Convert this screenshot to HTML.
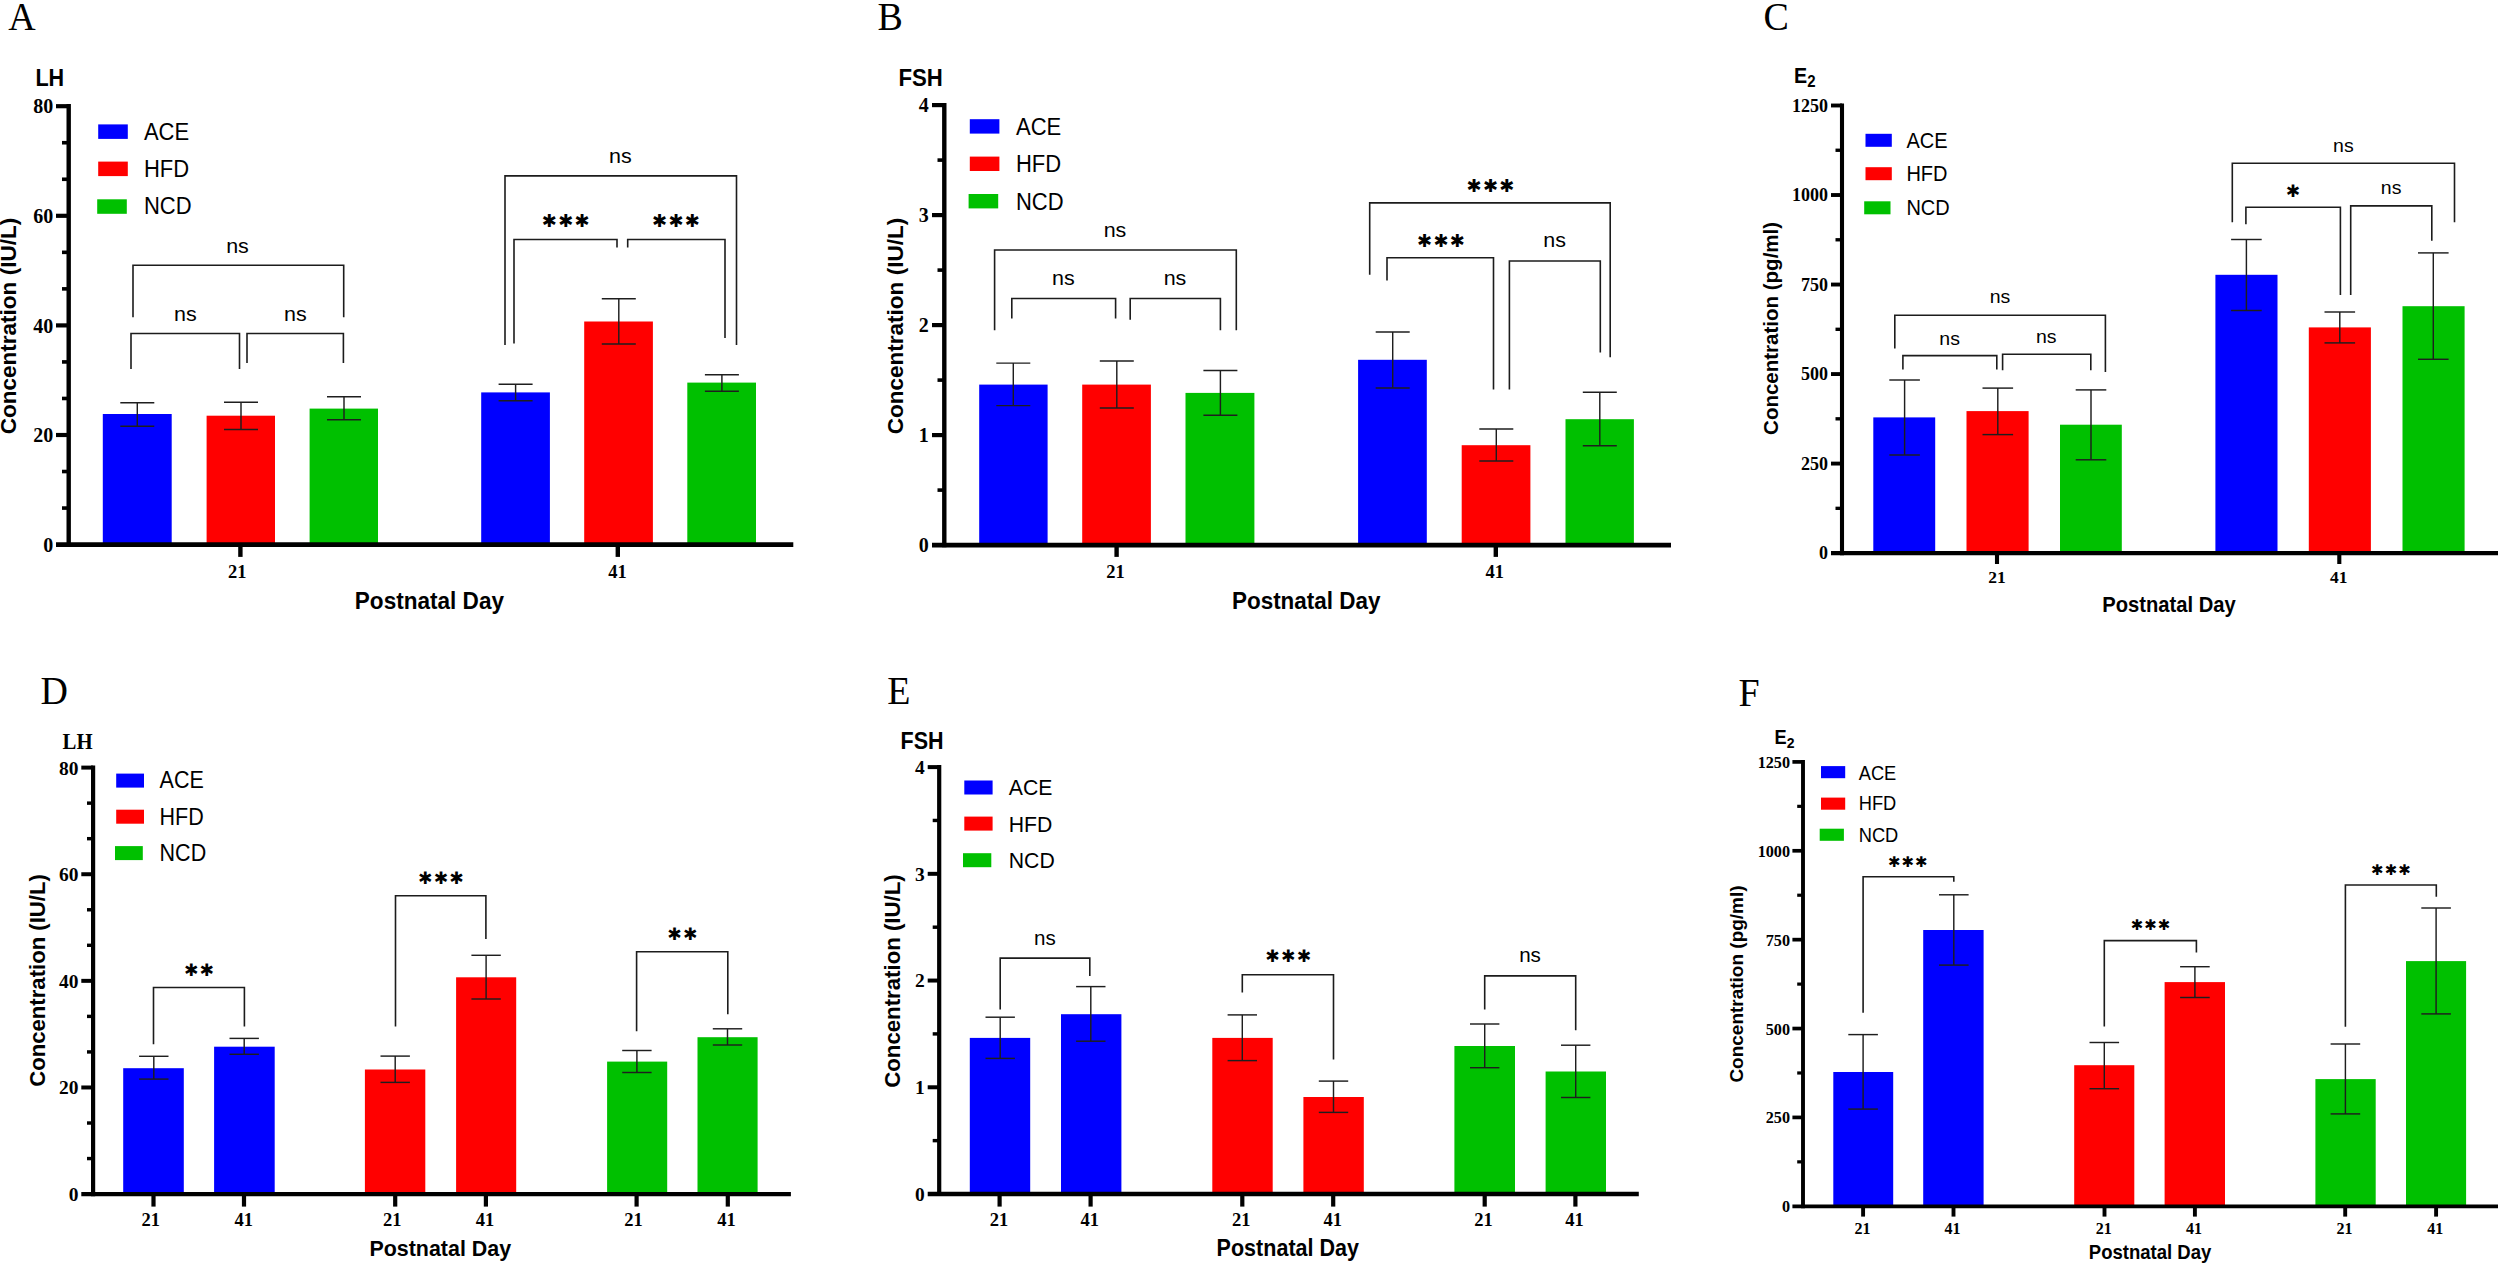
<!DOCTYPE html>
<html lang="en"><head><meta charset="utf-8"><title>Hormone concentration figure</title>
<style>html,body{margin:0;padding:0;background:#fff}svg{display:block}text{fill:#000}.s{font-family:"Liberation Sans",Arial,Helvetica,sans-serif}.r{font-family:"Liberation Serif","Times New Roman",Times,serif}.d{font-family:"DejaVu Sans","Liberation Sans",sans-serif}.b{font-weight:bold}.m{text-anchor:middle}.e{text-anchor:end}</style></head>
<body>
<svg width="2500" height="1267" viewBox="0 0 2500 1267" shape-rendering="auto">
<rect width="2500" height="1267" fill="#fff"/>
<g id="panelA">
<text class="r" transform="translate(8.2 30.1) scale(1 1.045)" font-size="38">A</text>
<text class="s b" transform="translate(35.4 86.3) scale(1 1.1)" font-size="21.6">LH</text>
<rect x="102.8" y="414" width="68.9" height="130.6" fill="#0000ff"/>
<rect x="206.6" y="415.7" width="68.4" height="128.9" fill="#ff0000"/>
<rect x="309.6" y="408.6" width="68.4" height="136" fill="#00c000"/>
<rect x="481.2" y="392.4" width="68.7" height="152.2" fill="#0000ff"/>
<rect x="584.2" y="321.5" width="68.7" height="223.1" fill="#ff0000"/>
<rect x="687.3" y="382.6" width="68.7" height="162" fill="#00c000"/>
<line x1="137.3" y1="402.8" x2="137.3" y2="426.3" stroke="#1e1e1e" stroke-width="1.45"/>
<line x1="120.3" y1="402.8" x2="154.3" y2="402.8" stroke="#1e1e1e" stroke-width="1.45"/>
<line x1="120.3" y1="426.3" x2="154.3" y2="426.3" stroke="#1e1e1e" stroke-width="1.45"/>
<line x1="241" y1="402.3" x2="241" y2="429.5" stroke="#1e1e1e" stroke-width="1.45"/>
<line x1="224" y1="402.3" x2="258" y2="402.3" stroke="#1e1e1e" stroke-width="1.45"/>
<line x1="224" y1="429.5" x2="258" y2="429.5" stroke="#1e1e1e" stroke-width="1.45"/>
<line x1="344" y1="396.7" x2="344" y2="419.7" stroke="#1e1e1e" stroke-width="1.45"/>
<line x1="327" y1="396.7" x2="361" y2="396.7" stroke="#1e1e1e" stroke-width="1.45"/>
<line x1="327" y1="419.7" x2="361" y2="419.7" stroke="#1e1e1e" stroke-width="1.45"/>
<line x1="515.6" y1="384.3" x2="515.6" y2="400.8" stroke="#1e1e1e" stroke-width="1.45"/>
<line x1="498.6" y1="384.3" x2="532.6" y2="384.3" stroke="#1e1e1e" stroke-width="1.45"/>
<line x1="498.6" y1="400.8" x2="532.6" y2="400.8" stroke="#1e1e1e" stroke-width="1.45"/>
<line x1="618.8" y1="298.8" x2="618.8" y2="343.9" stroke="#1e1e1e" stroke-width="1.45"/>
<line x1="601.8" y1="298.8" x2="635.8" y2="298.8" stroke="#1e1e1e" stroke-width="1.45"/>
<line x1="601.8" y1="343.9" x2="635.8" y2="343.9" stroke="#1e1e1e" stroke-width="1.45"/>
<line x1="721.9" y1="374.7" x2="721.9" y2="391.2" stroke="#1e1e1e" stroke-width="1.45"/>
<line x1="704.9" y1="374.7" x2="738.9" y2="374.7" stroke="#1e1e1e" stroke-width="1.45"/>
<line x1="704.9" y1="391.2" x2="738.9" y2="391.2" stroke="#1e1e1e" stroke-width="1.45"/>
<line x1="68.7" y1="104" x2="68.7" y2="546.8" stroke="#000" stroke-width="4.4"/>
<line x1="56" y1="544.6" x2="793.3" y2="544.6" stroke="#000" stroke-width="4.6"/>
<text class="r b e" transform="translate(53.3 551.8) scale(1 1.06)" font-size="20">0</text>
<line x1="62" y1="508.07" x2="68.7" y2="508.07" stroke="#000" stroke-width="3.61"/>
<line x1="62" y1="471.53" x2="68.7" y2="471.53" stroke="#000" stroke-width="3.61"/>
<line x1="56" y1="435" x2="68.7" y2="435" stroke="#000" stroke-width="4.18"/>
<text class="r b e" transform="translate(53.3 442.2) scale(1 1.06)" font-size="20">20</text>
<line x1="62" y1="398.47" x2="68.7" y2="398.47" stroke="#000" stroke-width="3.61"/>
<line x1="62" y1="361.93" x2="68.7" y2="361.93" stroke="#000" stroke-width="3.61"/>
<line x1="56" y1="325.4" x2="68.7" y2="325.4" stroke="#000" stroke-width="4.18"/>
<text class="r b e" transform="translate(53.3 332.6) scale(1 1.06)" font-size="20">40</text>
<line x1="62" y1="288.87" x2="68.7" y2="288.87" stroke="#000" stroke-width="3.61"/>
<line x1="62" y1="252.33" x2="68.7" y2="252.33" stroke="#000" stroke-width="3.61"/>
<line x1="56" y1="215.8" x2="68.7" y2="215.8" stroke="#000" stroke-width="4.18"/>
<text class="r b e" transform="translate(53.3 223) scale(1 1.06)" font-size="20">60</text>
<line x1="62" y1="179.27" x2="68.7" y2="179.27" stroke="#000" stroke-width="3.61"/>
<line x1="62" y1="142.73" x2="68.7" y2="142.73" stroke="#000" stroke-width="3.61"/>
<line x1="56" y1="106.2" x2="68.7" y2="106.2" stroke="#000" stroke-width="4.18"/>
<text class="r b e" transform="translate(53.3 113.4) scale(1 1.06)" font-size="20">80</text>
<line x1="240.4" y1="544.6" x2="240.4" y2="556.9" stroke="#000" stroke-width="4.4"/>
<text class="r b m" transform="translate(237.2 578.3) scale(1 1.05)" font-size="18.5">21</text>
<line x1="617.8" y1="544.6" x2="617.8" y2="556.9" stroke="#000" stroke-width="4.4"/>
<text class="r b m" transform="translate(617.6 578.3) scale(1 1.05)" font-size="18.5">41</text>
<text class="s b" transform="translate(354.8 609.3) scale(1 1.07)" font-size="22.4" textLength="149.2" lengthAdjust="spacingAndGlyphs">Postnatal Day</text>
<text class="s b" transform="translate(16.2 434.3) rotate(-90)" font-size="22.6" textLength="216.5" lengthAdjust="spacingAndGlyphs">Concentration (IU/L)</text>
<rect x="98.2" y="124.4" width="29.6" height="14.5" fill="#0000ff"/>
<text class="s" transform="translate(143.9 139.6) scale(1 1.08)" font-size="22">ACE</text>
<rect x="98.2" y="161.6" width="29.6" height="14.5" fill="#ff0000"/>
<text class="s" transform="translate(143.9 176.9) scale(1 1.08)" font-size="22">HFD</text>
<rect x="97.2" y="199.3" width="29.6" height="14.5" fill="#00c000"/>
<text class="s" transform="translate(143.9 214.2) scale(1 1.08)" font-size="22">NCD</text>
<polyline points="133,317.2 133,265.2 343.7,265.2 343.7,317.2" fill="none" stroke="#1c1c1c" stroke-width="1.6" stroke-linejoin="miter"/>
<text class="s m" transform="translate(237.5 252.5) scale(1 0.97)" font-size="21.5">ns</text>
<polyline points="131,369 131,333.5 239.5,333.5 239.5,369" fill="none" stroke="#1c1c1c" stroke-width="1.6" stroke-linejoin="miter"/>
<text class="s m" transform="translate(185.3 321) scale(1 0.97)" font-size="21.5">ns</text>
<polyline points="247,363 247,333.5 343.4,333.5 343.4,363" fill="none" stroke="#1c1c1c" stroke-width="1.6" stroke-linejoin="miter"/>
<text class="s m" transform="translate(295.3 321) scale(1 0.97)" font-size="21.5">ns</text>
<polyline points="505,345 505,175.9 736.5,175.9 736.5,345" fill="none" stroke="#1c1c1c" stroke-width="1.6" stroke-linejoin="miter"/>
<text class="s m" transform="translate(620.4 163.2) scale(1 0.97)" font-size="21.5">ns</text>
<polyline points="514,343.4 514,239.5 617,239.5 617,247.6" fill="none" stroke="#1c1c1c" stroke-width="1.6" stroke-linejoin="miter"/>
<text class="d m" x="566.45" y="227.2" font-size="18" letter-spacing="1.3">✱✱✱</text>
<polyline points="627.7,247.6 627.7,239.5 725,239.5 725,337.9" fill="none" stroke="#1c1c1c" stroke-width="1.6" stroke-linejoin="miter"/>
<text class="d m" x="676.65" y="227.2" font-size="18" letter-spacing="1.3">✱✱✱</text>
</g>
<g id="panelB">
<text class="r" transform="translate(877.5 30) scale(1 1.045)" font-size="38">B</text>
<text class="s b" transform="translate(898.5 86.4) scale(1 1.1)" font-size="22.2">FSH</text>
<rect x="979.2" y="384.6" width="68.4" height="160.5" fill="#0000ff"/>
<rect x="1082.2" y="384.6" width="68.7" height="160.5" fill="#ff0000"/>
<rect x="1185.5" y="392.9" width="68.9" height="152.2" fill="#00c000"/>
<rect x="1358.1" y="359.8" width="68.7" height="185.3" fill="#0000ff"/>
<rect x="1461.7" y="445.2" width="68.7" height="99.9" fill="#ff0000"/>
<rect x="1565.5" y="419.2" width="68.4" height="125.9" fill="#00c000"/>
<line x1="1013.3" y1="363.1" x2="1013.3" y2="405.6" stroke="#1e1e1e" stroke-width="1.45"/>
<line x1="996.3" y1="363.1" x2="1030.3" y2="363.1" stroke="#1e1e1e" stroke-width="1.45"/>
<line x1="996.3" y1="405.6" x2="1030.3" y2="405.6" stroke="#1e1e1e" stroke-width="1.45"/>
<line x1="1116.8" y1="360.9" x2="1116.8" y2="408" stroke="#1e1e1e" stroke-width="1.45"/>
<line x1="1099.8" y1="360.9" x2="1133.8" y2="360.9" stroke="#1e1e1e" stroke-width="1.45"/>
<line x1="1099.8" y1="408" x2="1133.8" y2="408" stroke="#1e1e1e" stroke-width="1.45"/>
<line x1="1220.4" y1="370.5" x2="1220.4" y2="415.2" stroke="#1e1e1e" stroke-width="1.45"/>
<line x1="1203.4" y1="370.5" x2="1237.4" y2="370.5" stroke="#1e1e1e" stroke-width="1.45"/>
<line x1="1203.4" y1="415.2" x2="1237.4" y2="415.2" stroke="#1e1e1e" stroke-width="1.45"/>
<line x1="1392.7" y1="332" x2="1392.7" y2="387.9" stroke="#1e1e1e" stroke-width="1.45"/>
<line x1="1375.7" y1="332" x2="1409.7" y2="332" stroke="#1e1e1e" stroke-width="1.45"/>
<line x1="1375.7" y1="387.9" x2="1409.7" y2="387.9" stroke="#1e1e1e" stroke-width="1.45"/>
<line x1="1496.3" y1="429" x2="1496.3" y2="460.9" stroke="#1e1e1e" stroke-width="1.45"/>
<line x1="1479.3" y1="429" x2="1513.3" y2="429" stroke="#1e1e1e" stroke-width="1.45"/>
<line x1="1479.3" y1="460.9" x2="1513.3" y2="460.9" stroke="#1e1e1e" stroke-width="1.45"/>
<line x1="1599.8" y1="392.2" x2="1599.8" y2="445.7" stroke="#1e1e1e" stroke-width="1.45"/>
<line x1="1582.8" y1="392.2" x2="1616.8" y2="392.2" stroke="#1e1e1e" stroke-width="1.45"/>
<line x1="1582.8" y1="445.7" x2="1616.8" y2="445.7" stroke="#1e1e1e" stroke-width="1.45"/>
<line x1="944.3" y1="102.9" x2="944.3" y2="547.3" stroke="#000" stroke-width="4.4"/>
<line x1="932" y1="545.1" x2="1671" y2="545.1" stroke="#000" stroke-width="4.6"/>
<text class="r b e" transform="translate(928.7 552.3) scale(1 1.06)" font-size="20">0</text>
<line x1="937.5" y1="490.1" x2="944.3" y2="490.1" stroke="#000" stroke-width="3.61"/>
<line x1="932" y1="435.1" x2="944.3" y2="435.1" stroke="#000" stroke-width="4.18"/>
<text class="r b e" transform="translate(928.7 442.3) scale(1 1.06)" font-size="20">1</text>
<line x1="937.5" y1="380.1" x2="944.3" y2="380.1" stroke="#000" stroke-width="3.61"/>
<line x1="932" y1="325.1" x2="944.3" y2="325.1" stroke="#000" stroke-width="4.18"/>
<text class="r b e" transform="translate(928.7 332.3) scale(1 1.06)" font-size="20">2</text>
<line x1="937.5" y1="270.1" x2="944.3" y2="270.1" stroke="#000" stroke-width="3.61"/>
<line x1="932" y1="215.1" x2="944.3" y2="215.1" stroke="#000" stroke-width="4.18"/>
<text class="r b e" transform="translate(928.7 222.3) scale(1 1.06)" font-size="20">3</text>
<line x1="937.5" y1="160.1" x2="944.3" y2="160.1" stroke="#000" stroke-width="3.61"/>
<line x1="932" y1="105.1" x2="944.3" y2="105.1" stroke="#000" stroke-width="4.18"/>
<text class="r b e" transform="translate(928.7 112.3) scale(1 1.06)" font-size="20">4</text>
<line x1="1116.6" y1="545.1" x2="1116.6" y2="556.9" stroke="#000" stroke-width="4.4"/>
<text class="r b m" transform="translate(1115.6 578.3) scale(1 1.05)" font-size="18.5">21</text>
<line x1="1495.8" y1="545.1" x2="1495.8" y2="556.9" stroke="#000" stroke-width="4.4"/>
<text class="r b m" transform="translate(1494.7 578.3) scale(1 1.05)" font-size="18.5">41</text>
<text class="s b" transform="translate(1232 609.3) scale(1 1.07)" font-size="22.4" textLength="148.4" lengthAdjust="spacingAndGlyphs">Postnatal Day</text>
<text class="s b" transform="translate(902.7 434.3) rotate(-90)" font-size="22.6" textLength="216.5" lengthAdjust="spacingAndGlyphs">Concentration (IU/L)</text>
<rect x="969.8" y="119.2" width="29.6" height="14.4" fill="#0000ff"/>
<text class="s" transform="translate(1016 134.6) scale(1 1.08)" font-size="22">ACE</text>
<rect x="969.8" y="156.6" width="29.6" height="14.4" fill="#ff0000"/>
<text class="s" transform="translate(1016 172.2) scale(1 1.08)" font-size="22">HFD</text>
<rect x="968.6" y="194" width="29.6" height="14.4" fill="#00c000"/>
<text class="s" transform="translate(1016 209.6) scale(1 1.08)" font-size="22">NCD</text>
<polyline points="994.6,330.3 994.6,250 1236.3,250 1236.3,330.3" fill="none" stroke="#1c1c1c" stroke-width="1.6" stroke-linejoin="miter"/>
<text class="s m" transform="translate(1115 237.4) scale(1 0.97)" font-size="21.5">ns</text>
<polyline points="1011.8,318.4 1011.8,298.5 1115.6,298.5 1115.6,318.4" fill="none" stroke="#1c1c1c" stroke-width="1.6" stroke-linejoin="miter"/>
<text class="s m" transform="translate(1063.3 285.4) scale(1 0.97)" font-size="21.5">ns</text>
<polyline points="1130.2,319.7 1130.2,298.5 1220.4,298.5 1220.4,330.3" fill="none" stroke="#1c1c1c" stroke-width="1.6" stroke-linejoin="miter"/>
<text class="s m" transform="translate(1175 285.4) scale(1 0.97)" font-size="21.5">ns</text>
<polyline points="1369.7,274.8 1369.7,202.9 1610.2,202.9 1610.2,357.3" fill="none" stroke="#1c1c1c" stroke-width="1.6" stroke-linejoin="miter"/>
<text class="d m" x="1491.15" y="191.5" font-size="18" letter-spacing="1.3">✱✱✱</text>
<polyline points="1387,280.4 1387,257.7 1493.5,257.7 1493.5,389.6" fill="none" stroke="#1c1c1c" stroke-width="1.6" stroke-linejoin="miter"/>
<text class="d m" x="1441.65" y="247" font-size="18" letter-spacing="1.3">✱✱✱</text>
<polyline points="1509.4,389.6 1509.4,261 1600.3,261 1600.3,352.5" fill="none" stroke="#1c1c1c" stroke-width="1.6" stroke-linejoin="miter"/>
<text class="s m" transform="translate(1554.6 247) scale(1 0.97)" font-size="21.5">ns</text>
</g>
<g id="panelC">
<text class="r" transform="translate(1763.5 30) scale(1 1.045)" font-size="38">C</text>
<text class="s b" transform="translate(1794.1 82.6) scale(1 1.1)" font-size="19.7">E<tspan font-size="15" dy="3.6">2</tspan></text>
<rect x="1873.3" y="417.4" width="61.9" height="135.7" fill="#0000ff"/>
<rect x="1966.5" y="411.1" width="62.1" height="142" fill="#ff0000"/>
<rect x="2060" y="424.7" width="61.8" height="128.4" fill="#00c000"/>
<rect x="2215.4" y="274.8" width="62.1" height="278.3" fill="#0000ff"/>
<rect x="2308.8" y="327.4" width="62.1" height="225.7" fill="#ff0000"/>
<rect x="2402.5" y="306.2" width="62.1" height="246.9" fill="#00c000"/>
<line x1="1904.6" y1="380" x2="1904.6" y2="455" stroke="#1e1e1e" stroke-width="1.45"/>
<line x1="1889.3" y1="380" x2="1919.9" y2="380" stroke="#1e1e1e" stroke-width="1.45"/>
<line x1="1889.3" y1="455" x2="1919.9" y2="455" stroke="#1e1e1e" stroke-width="1.45"/>
<line x1="1997.8" y1="388.1" x2="1997.8" y2="434.6" stroke="#1e1e1e" stroke-width="1.45"/>
<line x1="1982.5" y1="388.1" x2="2013.1" y2="388.1" stroke="#1e1e1e" stroke-width="1.45"/>
<line x1="1982.5" y1="434.6" x2="2013.1" y2="434.6" stroke="#1e1e1e" stroke-width="1.45"/>
<line x1="2091" y1="389.9" x2="2091" y2="459.8" stroke="#1e1e1e" stroke-width="1.45"/>
<line x1="2075.7" y1="389.9" x2="2106.3" y2="389.9" stroke="#1e1e1e" stroke-width="1.45"/>
<line x1="2075.7" y1="459.8" x2="2106.3" y2="459.8" stroke="#1e1e1e" stroke-width="1.45"/>
<line x1="2246.4" y1="239.5" x2="2246.4" y2="310.5" stroke="#1e1e1e" stroke-width="1.45"/>
<line x1="2231.1" y1="239.5" x2="2261.7" y2="239.5" stroke="#1e1e1e" stroke-width="1.45"/>
<line x1="2231.1" y1="310.5" x2="2261.7" y2="310.5" stroke="#1e1e1e" stroke-width="1.45"/>
<line x1="2339.8" y1="312" x2="2339.8" y2="342.9" stroke="#1e1e1e" stroke-width="1.45"/>
<line x1="2324.5" y1="312" x2="2355.1" y2="312" stroke="#1e1e1e" stroke-width="1.45"/>
<line x1="2324.5" y1="342.9" x2="2355.1" y2="342.9" stroke="#1e1e1e" stroke-width="1.45"/>
<line x1="2433.3" y1="252.9" x2="2433.3" y2="359.3" stroke="#1e1e1e" stroke-width="1.45"/>
<line x1="2418" y1="252.9" x2="2448.6" y2="252.9" stroke="#1e1e1e" stroke-width="1.45"/>
<line x1="2418" y1="359.3" x2="2448.6" y2="359.3" stroke="#1e1e1e" stroke-width="1.45"/>
<line x1="1842" y1="103.45" x2="1842" y2="555.15" stroke="#000" stroke-width="4.1"/>
<line x1="1831" y1="553.1" x2="2498" y2="553.1" stroke="#000" stroke-width="4.3"/>
<text class="r b e" x="1828" y="559.4" font-size="18">0</text>
<line x1="1835.5" y1="508.34" x2="1842" y2="508.34" stroke="#000" stroke-width="3.36"/>
<line x1="1831" y1="463.58" x2="1842" y2="463.58" stroke="#000" stroke-width="3.89"/>
<text class="r b e" x="1828" y="469.88" font-size="18">250</text>
<line x1="1835.5" y1="418.82" x2="1842" y2="418.82" stroke="#000" stroke-width="3.36"/>
<line x1="1831" y1="374.06" x2="1842" y2="374.06" stroke="#000" stroke-width="3.89"/>
<text class="r b e" x="1828" y="380.36" font-size="18">500</text>
<line x1="1835.5" y1="329.3" x2="1842" y2="329.3" stroke="#000" stroke-width="3.36"/>
<line x1="1831" y1="284.54" x2="1842" y2="284.54" stroke="#000" stroke-width="3.89"/>
<text class="r b e" x="1828" y="290.84" font-size="18">750</text>
<line x1="1835.5" y1="239.78" x2="1842" y2="239.78" stroke="#000" stroke-width="3.36"/>
<line x1="1831" y1="195.02" x2="1842" y2="195.02" stroke="#000" stroke-width="3.89"/>
<text class="r b e" x="1828" y="201.32" font-size="18">1000</text>
<line x1="1835.5" y1="150.26" x2="1842" y2="150.26" stroke="#000" stroke-width="3.36"/>
<line x1="1831" y1="105.5" x2="1842" y2="105.5" stroke="#000" stroke-width="3.89"/>
<text class="r b e" x="1828" y="111.8" font-size="18">1250</text>
<line x1="1997" y1="553.1" x2="1997" y2="564" stroke="#000" stroke-width="4.1"/>
<text class="r b m" x="1997" y="583" font-size="17.5">21</text>
<line x1="2339.3" y1="553.1" x2="2339.3" y2="564" stroke="#000" stroke-width="4.1"/>
<text class="r b m" x="2338.8" y="583" font-size="17.5">41</text>
<text class="s b" transform="translate(2102.2 611.5) scale(1 1.07)" font-size="20.2" textLength="133.6" lengthAdjust="spacingAndGlyphs">Postnatal Day</text>
<text class="s b" transform="translate(1778.2 434.9) rotate(-90)" font-size="20.6" textLength="213" lengthAdjust="spacingAndGlyphs">Concentration (pg/ml)</text>
<rect x="1865.5" y="133.8" width="26.3" height="13" fill="#0000ff"/>
<text class="s" transform="translate(1906.4 147.7) scale(1 1.08)" font-size="20">ACE</text>
<rect x="1865.5" y="167.2" width="26.3" height="13" fill="#ff0000"/>
<text class="s" transform="translate(1906.4 181.3) scale(1 1.08)" font-size="20">HFD</text>
<rect x="1864.2" y="201.3" width="26.3" height="13" fill="#00c000"/>
<text class="s" transform="translate(1906.4 214.8) scale(1 1.08)" font-size="20">NCD</text>
<polyline points="1894.8,348.5 1894.8,315.2 2105.4,315.2 2105.4,372" fill="none" stroke="#1c1c1c" stroke-width="1.6" stroke-linejoin="miter"/>
<text class="s m" transform="translate(2000 303) scale(1 0.97)" font-size="19.5">ns</text>
<polyline points="1902.9,369.4 1902.9,355.6 1996.8,355.6 1996.8,369.4" fill="none" stroke="#1c1c1c" stroke-width="1.6" stroke-linejoin="miter"/>
<text class="s m" transform="translate(1949.6 345) scale(1 0.97)" font-size="19.5">ns</text>
<polyline points="2002.6,370.2 2002.6,354.3 2090.8,354.3 2090.8,370.2" fill="none" stroke="#1c1c1c" stroke-width="1.6" stroke-linejoin="miter"/>
<text class="s m" transform="translate(2046.3 343.4) scale(1 0.97)" font-size="19.5">ns</text>
<polyline points="2232.3,222.3 2232.3,163.2 2454.5,163.2 2454.5,222.3" fill="none" stroke="#1c1c1c" stroke-width="1.6" stroke-linejoin="miter"/>
<text class="s m" transform="translate(2343.4 151.6) scale(1 0.97)" font-size="19.5">ns</text>
<polyline points="2245.9,224.3 2245.9,207.2 2340.4,207.2 2340.4,295" fill="none" stroke="#1c1c1c" stroke-width="1.6" stroke-linejoin="miter"/>
<text class="d m" x="2293.51" y="197" font-size="17" letter-spacing="1.22">✱</text>
<polyline points="2350.7,295 2350.7,205.9 2431.8,205.9 2431.8,240.8" fill="none" stroke="#1c1c1c" stroke-width="1.6" stroke-linejoin="miter"/>
<text class="s m" transform="translate(2391.1 194) scale(1 0.97)" font-size="19.5">ns</text>
</g>
<g id="panelD">
<text class="r" transform="translate(40.5 704.2) scale(1 1.045)" font-size="38">D</text>
<text class="r b" transform="translate(62.6 749) scale(1 1.1)" font-size="20.8">LH</text>
<rect x="123.2" y="1068.2" width="60.6" height="125.9" fill="#0000ff"/>
<rect x="214.1" y="1046.7" width="60.6" height="147.4" fill="#0000ff"/>
<rect x="364.9" y="1069.5" width="60.4" height="124.6" fill="#ff0000"/>
<rect x="456.1" y="977.3" width="60.1" height="216.8" fill="#ff0000"/>
<rect x="607.1" y="1061.6" width="60.1" height="132.5" fill="#00c000"/>
<rect x="697.5" y="1037.2" width="60.1" height="156.9" fill="#00c000"/>
<line x1="153.8" y1="1056.3" x2="153.8" y2="1079.1" stroke="#1e1e1e" stroke-width="1.45"/>
<line x1="139.1" y1="1056.3" x2="168.5" y2="1056.3" stroke="#1e1e1e" stroke-width="1.45"/>
<line x1="139.1" y1="1079.1" x2="168.5" y2="1079.1" stroke="#1e1e1e" stroke-width="1.45"/>
<line x1="244.2" y1="1038.4" x2="244.2" y2="1054.3" stroke="#1e1e1e" stroke-width="1.45"/>
<line x1="229.5" y1="1038.4" x2="258.9" y2="1038.4" stroke="#1e1e1e" stroke-width="1.45"/>
<line x1="229.5" y1="1054.3" x2="258.9" y2="1054.3" stroke="#1e1e1e" stroke-width="1.45"/>
<line x1="395.2" y1="1056.1" x2="395.2" y2="1082.4" stroke="#1e1e1e" stroke-width="1.45"/>
<line x1="380.5" y1="1056.1" x2="409.9" y2="1056.1" stroke="#1e1e1e" stroke-width="1.45"/>
<line x1="380.5" y1="1082.4" x2="409.9" y2="1082.4" stroke="#1e1e1e" stroke-width="1.45"/>
<line x1="486.1" y1="955.3" x2="486.1" y2="999" stroke="#1e1e1e" stroke-width="1.45"/>
<line x1="471.4" y1="955.3" x2="500.8" y2="955.3" stroke="#1e1e1e" stroke-width="1.45"/>
<line x1="471.4" y1="999" x2="500.8" y2="999" stroke="#1e1e1e" stroke-width="1.45"/>
<line x1="636.9" y1="1050.5" x2="636.9" y2="1072.5" stroke="#1e1e1e" stroke-width="1.45"/>
<line x1="622.2" y1="1050.5" x2="651.6" y2="1050.5" stroke="#1e1e1e" stroke-width="1.45"/>
<line x1="622.2" y1="1072.5" x2="651.6" y2="1072.5" stroke="#1e1e1e" stroke-width="1.45"/>
<line x1="727.5" y1="1028.8" x2="727.5" y2="1045" stroke="#1e1e1e" stroke-width="1.45"/>
<line x1="712.8" y1="1028.8" x2="742.2" y2="1028.8" stroke="#1e1e1e" stroke-width="1.45"/>
<line x1="712.8" y1="1045" x2="742.2" y2="1045" stroke="#1e1e1e" stroke-width="1.45"/>
<line x1="93.1" y1="765.5" x2="93.1" y2="1196.2" stroke="#000" stroke-width="4.2"/>
<line x1="81.3" y1="1194.1" x2="790.9" y2="1194.1" stroke="#000" stroke-width="4.4"/>
<text class="r b e" transform="translate(78.5 1201) scale(1 0.93)" font-size="19.5">0</text>
<line x1="87" y1="1158.56" x2="93.1" y2="1158.56" stroke="#000" stroke-width="3.44"/>
<line x1="87" y1="1123.02" x2="93.1" y2="1123.02" stroke="#000" stroke-width="3.44"/>
<line x1="81.3" y1="1087.47" x2="93.1" y2="1087.47" stroke="#000" stroke-width="3.99"/>
<text class="r b e" transform="translate(78.5 1094.38) scale(1 0.93)" font-size="19.5">20</text>
<line x1="87" y1="1051.93" x2="93.1" y2="1051.93" stroke="#000" stroke-width="3.44"/>
<line x1="87" y1="1016.39" x2="93.1" y2="1016.39" stroke="#000" stroke-width="3.44"/>
<line x1="81.3" y1="980.85" x2="93.1" y2="980.85" stroke="#000" stroke-width="3.99"/>
<text class="r b e" transform="translate(78.5 987.75) scale(1 0.93)" font-size="19.5">40</text>
<line x1="87" y1="945.31" x2="93.1" y2="945.31" stroke="#000" stroke-width="3.44"/>
<line x1="87" y1="909.77" x2="93.1" y2="909.77" stroke="#000" stroke-width="3.44"/>
<line x1="81.3" y1="874.23" x2="93.1" y2="874.23" stroke="#000" stroke-width="3.99"/>
<text class="r b e" transform="translate(78.5 881.12) scale(1 0.93)" font-size="19.5">60</text>
<line x1="87" y1="838.68" x2="93.1" y2="838.68" stroke="#000" stroke-width="3.44"/>
<line x1="87" y1="803.14" x2="93.1" y2="803.14" stroke="#000" stroke-width="3.44"/>
<line x1="81.3" y1="767.6" x2="93.1" y2="767.6" stroke="#000" stroke-width="3.99"/>
<text class="r b e" transform="translate(78.5 774.5) scale(1 0.93)" font-size="19.5">80</text>
<line x1="153.5" y1="1194.1" x2="153.5" y2="1206.6" stroke="#000" stroke-width="4.2"/>
<text class="r b m" x="150.8" y="1226.4" font-size="18.5">21</text>
<line x1="244" y1="1194.1" x2="244" y2="1206.6" stroke="#000" stroke-width="4.2"/>
<text class="r b m" x="243.7" y="1226.4" font-size="18.5">41</text>
<line x1="395.2" y1="1194.1" x2="395.2" y2="1206.6" stroke="#000" stroke-width="4.2"/>
<text class="r b m" x="392.2" y="1226.4" font-size="18.5">21</text>
<line x1="485.9" y1="1194.1" x2="485.9" y2="1206.6" stroke="#000" stroke-width="4.2"/>
<text class="r b m" x="485.1" y="1226.4" font-size="18.5">41</text>
<line x1="636.6" y1="1194.1" x2="636.6" y2="1206.6" stroke="#000" stroke-width="4.2"/>
<text class="r b m" x="633.6" y="1226.4" font-size="18.5">21</text>
<line x1="727.8" y1="1194.1" x2="727.8" y2="1206.6" stroke="#000" stroke-width="4.2"/>
<text class="r b m" x="726.5" y="1226.4" font-size="18.5">41</text>
<text class="s b" transform="translate(369.4 1255.6) scale(1 1.07)" font-size="21.4" textLength="141.7" lengthAdjust="spacingAndGlyphs">Postnatal Day</text>
<text class="s b" transform="translate(45.2 1086.8) rotate(-90)" font-size="22" textLength="212.7" lengthAdjust="spacingAndGlyphs">Concentration (IU/L)</text>
<rect x="116.2" y="773.6" width="27.8" height="14" fill="#0000ff"/>
<text class="s" transform="translate(159.6 788.3) scale(1 1.08)" font-size="21.5">ACE</text>
<rect x="116.2" y="809.7" width="27.8" height="14" fill="#ff0000"/>
<text class="s" transform="translate(159.6 824.6) scale(1 1.08)" font-size="21.5">HFD</text>
<rect x="115" y="846.1" width="27.8" height="14" fill="#00c000"/>
<text class="s" transform="translate(159.6 861) scale(1 1.08)" font-size="21.5">NCD</text>
<polyline points="153.5,1044.2 153.5,987.5 244.4,987.5 244.4,1026.5" fill="none" stroke="#1c1c1c" stroke-width="1.6" stroke-linejoin="miter"/>
<text class="d m" x="199.62" y="975.7" font-size="17.2" letter-spacing="1.24">✱✱</text>
<polyline points="395.5,1026.5 395.5,895.8 485.9,895.8 485.9,939.1" fill="none" stroke="#1c1c1c" stroke-width="1.6" stroke-linejoin="miter"/>
<text class="d m" x="441.52" y="884" font-size="17.2" letter-spacing="1.24">✱✱✱</text>
<polyline points="636.6,1031.2 636.6,951.7 727.8,951.7 727.8,1014.3" fill="none" stroke="#1c1c1c" stroke-width="1.6" stroke-linejoin="miter"/>
<text class="d m" x="682.92" y="940" font-size="17.2" letter-spacing="1.24">✱✱</text>
</g>
<g id="panelE">
<text class="r" transform="translate(887.3 704.2) scale(1 1.045)" font-size="38">E</text>
<text class="s b" transform="translate(900.5 749.4) scale(1 1.1)" font-size="21.5">FSH</text>
<rect x="969.8" y="1037.9" width="60.4" height="156.1" fill="#0000ff"/>
<rect x="1061" y="1014.2" width="60.4" height="179.8" fill="#0000ff"/>
<rect x="1212.3" y="1037.9" width="60.4" height="156.1" fill="#ff0000"/>
<rect x="1303.4" y="1097" width="60.4" height="97" fill="#ff0000"/>
<rect x="1454.4" y="1046" width="60.6" height="148" fill="#00c000"/>
<rect x="1545.6" y="1071.5" width="60.4" height="122.5" fill="#00c000"/>
<line x1="1000.2" y1="1017.2" x2="1000.2" y2="1058.4" stroke="#1e1e1e" stroke-width="1.45"/>
<line x1="985.5" y1="1017.2" x2="1014.9" y2="1017.2" stroke="#1e1e1e" stroke-width="1.45"/>
<line x1="985.5" y1="1058.4" x2="1014.9" y2="1058.4" stroke="#1e1e1e" stroke-width="1.45"/>
<line x1="1090.8" y1="986.6" x2="1090.8" y2="1041.2" stroke="#1e1e1e" stroke-width="1.45"/>
<line x1="1076.1" y1="986.6" x2="1105.5" y2="986.6" stroke="#1e1e1e" stroke-width="1.45"/>
<line x1="1076.1" y1="1041.2" x2="1105.5" y2="1041.2" stroke="#1e1e1e" stroke-width="1.45"/>
<line x1="1242.3" y1="1014.9" x2="1242.3" y2="1060.6" stroke="#1e1e1e" stroke-width="1.45"/>
<line x1="1227.6" y1="1014.9" x2="1257" y2="1014.9" stroke="#1e1e1e" stroke-width="1.45"/>
<line x1="1227.6" y1="1060.6" x2="1257" y2="1060.6" stroke="#1e1e1e" stroke-width="1.45"/>
<line x1="1333.5" y1="1081.1" x2="1333.5" y2="1112.4" stroke="#1e1e1e" stroke-width="1.45"/>
<line x1="1318.8" y1="1081.1" x2="1348.2" y2="1081.1" stroke="#1e1e1e" stroke-width="1.45"/>
<line x1="1318.8" y1="1112.4" x2="1348.2" y2="1112.4" stroke="#1e1e1e" stroke-width="1.45"/>
<line x1="1484.7" y1="1024" x2="1484.7" y2="1067.7" stroke="#1e1e1e" stroke-width="1.45"/>
<line x1="1470" y1="1024" x2="1499.4" y2="1024" stroke="#1e1e1e" stroke-width="1.45"/>
<line x1="1470" y1="1067.7" x2="1499.4" y2="1067.7" stroke="#1e1e1e" stroke-width="1.45"/>
<line x1="1575.7" y1="1045.2" x2="1575.7" y2="1097.5" stroke="#1e1e1e" stroke-width="1.45"/>
<line x1="1561" y1="1045.2" x2="1590.4" y2="1045.2" stroke="#1e1e1e" stroke-width="1.45"/>
<line x1="1561" y1="1097.5" x2="1590.4" y2="1097.5" stroke="#1e1e1e" stroke-width="1.45"/>
<line x1="939.2" y1="765" x2="939.2" y2="1196.1" stroke="#000" stroke-width="4.2"/>
<line x1="927.7" y1="1194" x2="1638.8" y2="1194" stroke="#000" stroke-width="4.4"/>
<text class="r b e" transform="translate(924.8 1200.7) scale(1 0.93)" font-size="19.5">0</text>
<line x1="932.7" y1="1140.64" x2="939.2" y2="1140.64" stroke="#000" stroke-width="3.44"/>
<line x1="927.7" y1="1087.28" x2="939.2" y2="1087.28" stroke="#000" stroke-width="3.99"/>
<text class="r b e" transform="translate(924.8 1093.98) scale(1 0.93)" font-size="19.5">1</text>
<line x1="932.7" y1="1033.91" x2="939.2" y2="1033.91" stroke="#000" stroke-width="3.44"/>
<line x1="927.7" y1="980.55" x2="939.2" y2="980.55" stroke="#000" stroke-width="3.99"/>
<text class="r b e" transform="translate(924.8 987.25) scale(1 0.93)" font-size="19.5">2</text>
<line x1="932.7" y1="927.19" x2="939.2" y2="927.19" stroke="#000" stroke-width="3.44"/>
<line x1="927.7" y1="873.83" x2="939.2" y2="873.83" stroke="#000" stroke-width="3.99"/>
<text class="r b e" transform="translate(924.8 880.53) scale(1 0.93)" font-size="19.5">3</text>
<line x1="932.7" y1="820.46" x2="939.2" y2="820.46" stroke="#000" stroke-width="3.44"/>
<line x1="927.7" y1="767.1" x2="939.2" y2="767.1" stroke="#000" stroke-width="3.99"/>
<text class="r b e" transform="translate(924.8 773.8) scale(1 0.93)" font-size="19.5">4</text>
<line x1="999.6" y1="1194" x2="999.6" y2="1206.6" stroke="#000" stroke-width="4.2"/>
<text class="r b m" x="998.9" y="1226.4" font-size="18.5">21</text>
<line x1="1090.6" y1="1194" x2="1090.6" y2="1206.6" stroke="#000" stroke-width="4.2"/>
<text class="r b m" x="1089.8" y="1226.4" font-size="18.5">41</text>
<line x1="1242.3" y1="1194" x2="1242.3" y2="1206.6" stroke="#000" stroke-width="4.2"/>
<text class="r b m" x="1241.3" y="1226.4" font-size="18.5">21</text>
<line x1="1333.2" y1="1194" x2="1333.2" y2="1206.6" stroke="#000" stroke-width="4.2"/>
<text class="r b m" x="1332.7" y="1226.4" font-size="18.5">41</text>
<line x1="1484.7" y1="1194" x2="1484.7" y2="1206.6" stroke="#000" stroke-width="4.2"/>
<text class="r b m" x="1483.5" y="1226.4" font-size="18.5">21</text>
<line x1="1575.4" y1="1194" x2="1575.4" y2="1206.6" stroke="#000" stroke-width="4.2"/>
<text class="r b m" x="1574.6" y="1226.4" font-size="18.5">41</text>
<text class="s b" transform="translate(1216.6 1255.6) scale(1 1.07)" font-size="21.5" textLength="142.4" lengthAdjust="spacingAndGlyphs">Postnatal Day</text>
<text class="s b" transform="translate(899.8 1087.8) rotate(-90)" font-size="22" textLength="213.5" lengthAdjust="spacingAndGlyphs">Concentration (IU/L)</text>
<rect x="964.3" y="780.5" width="28.3" height="14" fill="#0000ff"/>
<text class="s" transform="translate(1008.8 795.1) scale(1 1.08)" font-size="21.2">ACE</text>
<rect x="964.3" y="816.6" width="28.3" height="14" fill="#ff0000"/>
<text class="s" transform="translate(1008.8 831.7) scale(1 1.08)" font-size="21.2">HFD</text>
<rect x="963" y="853.2" width="28.3" height="14" fill="#00c000"/>
<text class="s" transform="translate(1008.8 868.3) scale(1 1.08)" font-size="21.2">NCD</text>
<polyline points="1000.2,1009.6 1000.2,958.1 1089.8,958.1 1089.8,976" fill="none" stroke="#1c1c1c" stroke-width="1.6" stroke-linejoin="miter"/>
<text class="s m" transform="translate(1044.8 944.8) scale(1 0.97)" font-size="20.6">ns</text>
<polyline points="1242.3,992.5 1242.3,974.7 1333.5,974.7 1333.5,1059.4" fill="none" stroke="#1c1c1c" stroke-width="1.6" stroke-linejoin="miter"/>
<text class="d m" x="1288.82" y="962.2" font-size="17.2" letter-spacing="1.24">✱✱✱</text>
<polyline points="1484.7,1009.4 1484.7,975.9 1575.7,975.9 1575.7,1030.3" fill="none" stroke="#1c1c1c" stroke-width="1.6" stroke-linejoin="miter"/>
<text class="s m" transform="translate(1530 962.3) scale(1 0.97)" font-size="20.6">ns</text>
</g>
<g id="panelF">
<text class="r" transform="translate(1738.4 705.5) scale(1 1.045)" font-size="38">F</text>
<text class="s b" transform="translate(1774.6 744.1) scale(1 1.08)" font-size="18.2">E<tspan font-size="14" dy="3.6">2</tspan></text>
<rect x="1833.3" y="1072" width="59.9" height="134.3" fill="#0000ff"/>
<rect x="1923.2" y="930" width="60.4" height="276.3" fill="#0000ff"/>
<rect x="2074.2" y="1065.2" width="60.1" height="141.1" fill="#ff0000"/>
<rect x="2164.6" y="982.1" width="60.4" height="224.2" fill="#ff0000"/>
<rect x="2315.4" y="1079.1" width="60.3" height="127.2" fill="#00c000"/>
<rect x="2406" y="961.1" width="60.1" height="245.2" fill="#00c000"/>
<line x1="1863.1" y1="1034.6" x2="1863.1" y2="1109.1" stroke="#1e1e1e" stroke-width="1.45"/>
<line x1="1848.3" y1="1034.6" x2="1877.9" y2="1034.6" stroke="#1e1e1e" stroke-width="1.45"/>
<line x1="1848.3" y1="1109.1" x2="1877.9" y2="1109.1" stroke="#1e1e1e" stroke-width="1.45"/>
<line x1="1953.8" y1="894.8" x2="1953.8" y2="965.1" stroke="#1e1e1e" stroke-width="1.45"/>
<line x1="1939" y1="894.8" x2="1968.6" y2="894.8" stroke="#1e1e1e" stroke-width="1.45"/>
<line x1="1939" y1="965.1" x2="1968.6" y2="965.1" stroke="#1e1e1e" stroke-width="1.45"/>
<line x1="2104.3" y1="1042.5" x2="2104.3" y2="1088.7" stroke="#1e1e1e" stroke-width="1.45"/>
<line x1="2089.5" y1="1042.5" x2="2119.1" y2="1042.5" stroke="#1e1e1e" stroke-width="1.45"/>
<line x1="2089.5" y1="1088.7" x2="2119.1" y2="1088.7" stroke="#1e1e1e" stroke-width="1.45"/>
<line x1="2194.9" y1="966.7" x2="2194.9" y2="997.5" stroke="#1e1e1e" stroke-width="1.45"/>
<line x1="2180.1" y1="966.7" x2="2209.7" y2="966.7" stroke="#1e1e1e" stroke-width="1.45"/>
<line x1="2180.1" y1="997.5" x2="2209.7" y2="997.5" stroke="#1e1e1e" stroke-width="1.45"/>
<line x1="2345.4" y1="1044" x2="2345.4" y2="1113.9" stroke="#1e1e1e" stroke-width="1.45"/>
<line x1="2330.6" y1="1044" x2="2360.2" y2="1044" stroke="#1e1e1e" stroke-width="1.45"/>
<line x1="2330.6" y1="1113.9" x2="2360.2" y2="1113.9" stroke="#1e1e1e" stroke-width="1.45"/>
<line x1="2436.1" y1="908" x2="2436.1" y2="1013.9" stroke="#1e1e1e" stroke-width="1.45"/>
<line x1="2421.3" y1="908" x2="2450.9" y2="908" stroke="#1e1e1e" stroke-width="1.45"/>
<line x1="2421.3" y1="1013.9" x2="2450.9" y2="1013.9" stroke="#1e1e1e" stroke-width="1.45"/>
<line x1="1803" y1="759.95" x2="1803" y2="1208.25" stroke="#000" stroke-width="3.9"/>
<line x1="1792.4" y1="1206.3" x2="2498" y2="1206.3" stroke="#000" stroke-width="3.8"/>
<text class="r b e" x="1790" y="1212.3" font-size="16.2">0</text>
<line x1="1797.2" y1="1161.86" x2="1803" y2="1161.86" stroke="#000" stroke-width="3.2"/>
<line x1="1792.4" y1="1117.42" x2="1803" y2="1117.42" stroke="#000" stroke-width="3.7"/>
<text class="r b e" x="1790" y="1123.42" font-size="16.2">250</text>
<line x1="1797.2" y1="1072.98" x2="1803" y2="1072.98" stroke="#000" stroke-width="3.2"/>
<line x1="1792.4" y1="1028.54" x2="1803" y2="1028.54" stroke="#000" stroke-width="3.7"/>
<text class="r b e" x="1790" y="1034.54" font-size="16.2">500</text>
<line x1="1797.2" y1="984.1" x2="1803" y2="984.1" stroke="#000" stroke-width="3.2"/>
<line x1="1792.4" y1="939.66" x2="1803" y2="939.66" stroke="#000" stroke-width="3.7"/>
<text class="r b e" x="1790" y="945.66" font-size="16.2">750</text>
<line x1="1797.2" y1="895.22" x2="1803" y2="895.22" stroke="#000" stroke-width="3.2"/>
<line x1="1792.4" y1="850.78" x2="1803" y2="850.78" stroke="#000" stroke-width="3.7"/>
<text class="r b e" x="1790" y="856.78" font-size="16.2">1000</text>
<line x1="1797.2" y1="806.34" x2="1803" y2="806.34" stroke="#000" stroke-width="3.2"/>
<line x1="1792.4" y1="761.9" x2="1803" y2="761.9" stroke="#000" stroke-width="3.7"/>
<text class="r b e" x="1790" y="767.9" font-size="16.2">1250</text>
<line x1="1863.1" y1="1206.3" x2="1863.1" y2="1216.6" stroke="#000" stroke-width="3.9"/>
<text class="r b m" x="1862.4" y="1234.4" font-size="16">21</text>
<line x1="1953.5" y1="1206.3" x2="1953.5" y2="1216.6" stroke="#000" stroke-width="3.9"/>
<text class="r b m" x="1952.5" y="1234.4" font-size="16">41</text>
<line x1="2104.5" y1="1206.3" x2="2104.5" y2="1216.6" stroke="#000" stroke-width="3.9"/>
<text class="r b m" x="2103.7" y="1234.4" font-size="16">21</text>
<line x1="2194.9" y1="1206.3" x2="2194.9" y2="1216.6" stroke="#000" stroke-width="3.9"/>
<text class="r b m" x="2194.1" y="1234.4" font-size="16">41</text>
<line x1="2345.2" y1="1206.3" x2="2345.2" y2="1216.6" stroke="#000" stroke-width="3.9"/>
<text class="r b m" x="2344.6" y="1234.4" font-size="16">21</text>
<line x1="2436.1" y1="1206.3" x2="2436.1" y2="1216.6" stroke="#000" stroke-width="3.9"/>
<text class="r b m" x="2435.3" y="1234.4" font-size="16">41</text>
<text class="s b" transform="translate(2088.8 1259.2) scale(1 1.07)" font-size="18.5" textLength="122.5" lengthAdjust="spacingAndGlyphs">Postnatal Day</text>
<text class="s b" transform="translate(1743 1082.6) rotate(-90)" font-size="19.2" textLength="197.2" lengthAdjust="spacingAndGlyphs">Concentration (pg/ml)</text>
<rect x="1821" y="766.1" width="24.2" height="12.1" fill="#0000ff"/>
<text class="s" transform="translate(1858.7 780) scale(1 1.08)" font-size="18.3">ACE</text>
<rect x="1821" y="797.6" width="24.2" height="12.1" fill="#ff0000"/>
<text class="s" transform="translate(1858.7 810.2) scale(1 1.08)" font-size="18.3">HFD</text>
<rect x="1819.7" y="828.7" width="24.2" height="12.1" fill="#00c000"/>
<text class="s" transform="translate(1858.7 841.7) scale(1 1.08)" font-size="18.3">NCD</text>
<polyline points="1863.1,1012.7 1863.1,876.7 1953.8,876.7 1953.8,881.7" fill="none" stroke="#1c1c1c" stroke-width="1.6" stroke-linejoin="miter"/>
<text class="d m" x="1908.34" y="866.6" font-size="14.9" letter-spacing="1.07">✱✱✱</text>
<polyline points="2104.3,1026.6 2104.3,940.6 2196.4,940.6 2196.4,952.5" fill="none" stroke="#1c1c1c" stroke-width="1.6" stroke-linejoin="miter"/>
<text class="d m" x="2151.04" y="930.4" font-size="14.9" letter-spacing="1.07">✱✱✱</text>
<polyline points="2345.4,1026.7 2345.4,885 2436.3,885 2436.3,896.7" fill="none" stroke="#1c1c1c" stroke-width="1.6" stroke-linejoin="miter"/>
<text class="d m" x="2391.44" y="874.6" font-size="14.9" letter-spacing="1.07">✱✱✱</text>
</g>
</svg>
</body></html>
